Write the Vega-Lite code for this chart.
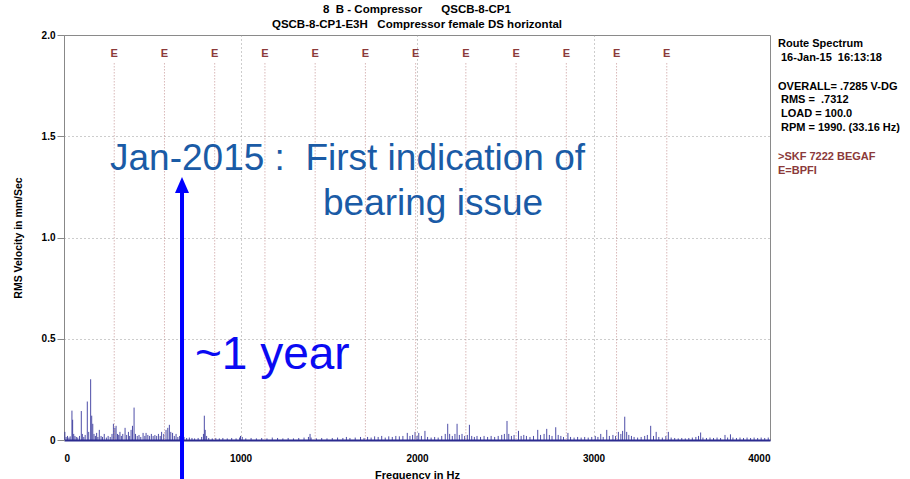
{
  "$schema": "https://vega.github.io/schema/vega-lite/v6.json",
  "width": 706,
  "height": 405,
  "autosize": "none",
  "padding": {"left": 64, "top": 35, "right": 140, "bottom": 39},
  "background": "white",
  "config": {
    "view": {"stroke": "#8a8a8a", "strokeWidth": 1},
    "font": "Liberation Sans",
    "axisX": {"labelFont": "Liberation Sans", "labelFontWeight": "bold", "labelFontSize": 10, "labelColor": "#000", "ticks": false, "labelPadding": 13, "domainColor": "#2b2b8f", "domainWidth": 2, "gridColor": "#9a9a9a", "gridDash": [1, 3], "titleFont": "Liberation Sans", "titleFontWeight": "bold", "titleFontSize": 11, "titleColor": "#000", "titlePadding": 6},
    "axisY": {"labelFont": "Liberation Sans", "labelFontWeight": "bold", "labelFontSize": 10, "labelColor": "#000", "tickSize": 7, "tickColor": "#888", "labelPadding": 2, "domainColor": "#888", "gridColor": "#9a9a9a", "gridDash": [1, 3], "titleFont": "Liberation Sans", "titleFontWeight": "bold", "titleFontSize": 10.5, "titleColor": "#000", "titlePadding": 18}
  },
  "title": {
    "text": "8\u00a0 B - Compressor\u00a0 \u00a0 \u00a0 QSCB-8-CP1",
    "subtitle": "QSCB-8-CP1-E3H\u00a0 \u00a0Compressor female DS horizontal",
    "anchor": "middle",
    "font": "Liberation Sans Narrow, Arial Narrow, Liberation Sans",
    "subtitleFont": "Liberation Sans Narrow, Arial Narrow, Liberation Sans",
    "fontSize": 11.5,
    "subtitleFontSize": 11.5,
    "fontWeight": "bold",
    "subtitleFontWeight": "bold",
    "color": "#000",
    "subtitleColor": "#000",
    "subtitlePadding": 3,
    "offset": 0
  },
  "datasets": {
    "spec": [
      {"f":5,"a":0.04},{"f":12,"a":0.015},{"f":20,"a":0.02},{"f":28,"a":0.012},{"f":35,"a":0.018},{"f":45,"a":0.145},{"f":49,"a":0.1},{"f":55,"a":0.03},{"f":62,"a":0.02},{"f":70,"a":0.015},{"f":78,"a":0.012},{"f":88,"a":0.02},{"f":98,"a":0.143},{"f":104,"a":0.03},{"f":112,"a":0.015},{"f":120,"a":0.025},{"f":132,"a":0.19},{"f":140,"a":0.04},{"f":151,"a":0.3},{"f":157,"a":0.12},{"f":163,"a":0.08},{"f":170,"a":0.03},{"f":178,"a":0.02},{"f":185,"a":0.035},{"f":192,"a":0.015},{"f":200,"a":0.05},{"f":210,"a":0.02},{"f":218,"a":0.015},{"f":228,"a":0.03},{"f":240,"a":0.012},{"f":250,"a":0.02},{"f":262,"a":0.015},{"f":272,"a":0.03},{"f":280,"a":0.08},{"f":288,"a":0.06},{"f":295,"a":0.07},{"f":303,"a":0.03},{"f":310,"a":0.025},{"f":317,"a":0.04},{"f":325,"a":0.02},{"f":333,"a":0.03},{"f":346,"a":0.06},{"f":355,"a":0.025},{"f":365,"a":0.04},{"f":372,"a":0.02},{"f":380,"a":0.05},{"f":388,"a":0.07},{"f":397,"a":0.16},{"f":405,"a":0.03},{"f":415,"a":0.02},{"f":425,"a":0.025},{"f":435,"a":0.015},{"f":448,"a":0.035},{"f":458,"a":0.02},{"f":465,"a":0.035},{"f":475,"a":0.025},{"f":485,"a":0.02},{"f":495,"a":0.03},{"f":505,"a":0.02},{"f":515,"a":0.025},{"f":525,"a":0.02},{"f":535,"a":0.03},{"f":545,"a":0.02},{"f":553,"a":0.04},{"f":565,"a":0.03},{"f":578,"a":0.05},{"f":588,"a":0.06},{"f":597,"a":0.075},{"f":605,"a":0.04},{"f":615,"a":0.035},{"f":625,"a":0.02},{"f":635,"a":0.03},{"f":645,"a":0.015},{"f":655,"a":0.02},{"f":668,"a":0.012},{"f":680,"a":0.015},{"f":695,"a":0.01},{"f":710,"a":0.012},{"f":725,"a":0.01},{"f":740,"a":0.008},{"f":760,"a":0.01},{"f":780,"a":0.015},{"f":790,"a":0.03},{"f":795,"a":0.12},{"f":800,"a":0.05},{"f":808,"a":0.02},{"f":820,"a":0.01},{"f":840,"a":0.008},{"f":860,"a":0.01},{"f":880,"a":0.008},{"f":900,"a":0.01},{"f":925,"a":0.008},{"f":950,"a":0.01},{"f":975,"a":0.008},{"f":995,"a":0.012},{"f":1000,"a":0.02},{"f":1010,"a":0.015},{"f":1030,"a":0.008},{"f":1060,"a":0.01},{"f":1090,"a":0.008},{"f":1120,"a":0.01},{"f":1150,"a":0.008},{"f":1180,"a":0.012},{"f":1210,"a":0.01},{"f":1240,"a":0.008},{"f":1270,"a":0.01},{"f":1300,"a":0.008},{"f":1330,"a":0.01},{"f":1360,"a":0.012},{"f":1385,"a":0.015},{"f":1394,"a":0.03},{"f":1400,"a":0.012},{"f":1430,"a":0.008},{"f":1460,"a":0.01},{"f":1490,"a":0.008},{"f":1520,"a":0.01},{"f":1550,"a":0.012},{"f":1580,"a":0.01},{"f":1600,"a":0.015},{"f":1620,"a":0.01},{"f":1650,"a":0.012},{"f":1680,"a":0.015},{"f":1700,"a":0.01},{"f":1720,"a":0.015},{"f":1740,"a":0.012},{"f":1760,"a":0.018},{"f":1780,"a":0.015},{"f":1800,"a":0.02},{"f":1820,"a":0.012},{"f":1840,"a":0.018},{"f":1860,"a":0.015},{"f":1880,"a":0.02},{"f":1900,"a":0.018},{"f":1920,"a":0.02},{"f":1945,"a":0.035},{"f":1960,"a":0.02},{"f":1975,"a":0.025},{"f":1989,"a":0.04},{"f":2000,"a":0.02},{"f":2010,"a":0.035},{"f":2025,"a":0.02},{"f":2045,"a":0.045},{"f":2060,"a":0.015},{"f":2080,"a":0.012},{"f":2100,"a":0.015},{"f":2120,"a":0.012},{"f":2140,"a":0.02},{"f":2160,"a":0.03},{"f":2174,"a":0.08},{"f":2185,"a":0.03},{"f":2200,"a":0.02},{"f":2215,"a":0.03},{"f":2227,"a":0.08},{"f":2240,"a":0.025},{"f":2255,"a":0.03},{"f":2270,"a":0.02},{"f":2285,"a":0.025},{"f":2297,"a":0.075},{"f":2310,"a":0.02},{"f":2325,"a":0.015},{"f":2340,"a":0.02},{"f":2360,"a":0.015},{"f":2380,"a":0.02},{"f":2400,"a":0.015},{"f":2420,"a":0.02},{"f":2440,"a":0.015},{"f":2460,"a":0.02},{"f":2480,"a":0.025},{"f":2495,"a":0.03},{"f":2510,"a":0.094},{"f":2520,"a":0.03},{"f":2535,"a":0.02},{"f":2550,"a":0.025},{"f":2575,"a":0.045},{"f":2590,"a":0.02},{"f":2605,"a":0.025},{"f":2620,"a":0.02},{"f":2640,"a":0.015},{"f":2660,"a":0.02},{"f":2684,"a":0.05},{"f":2700,"a":0.025},{"f":2720,"a":0.03},{"f":2735,"a":0.055},{"f":2750,"a":0.025},{"f":2765,"a":0.02},{"f":2786,"a":0.063},{"f":2800,"a":0.025},{"f":2815,"a":0.02},{"f":2830,"a":0.015},{"f":2855,"a":0.035},{"f":2870,"a":0.015},{"f":2890,"a":0.012},{"f":2910,"a":0.015},{"f":2930,"a":0.012},{"f":2950,"a":0.015},{"f":2970,"a":0.012},{"f":2990,"a":0.015},{"f":3010,"a":0.02},{"f":3025,"a":0.015},{"f":3041,"a":0.03},{"f":3055,"a":0.015},{"f":3075,"a":0.05},{"f":3090,"a":0.02},{"f":3110,"a":0.025},{"f":3125,"a":0.02},{"f":3141,"a":0.04},{"f":3155,"a":0.03},{"f":3165,"a":0.045},{"f":3177,"a":0.115},{"f":3188,"a":0.04},{"f":3200,"a":0.025},{"f":3215,"a":0.02},{"f":3230,"a":0.015},{"f":3250,"a":0.012},{"f":3270,"a":0.015},{"f":3290,"a":0.02},{"f":3305,"a":0.025},{"f":3324,"a":0.07},{"f":3340,"a":0.02},{"f":3355,"a":0.04},{"f":3370,"a":0.015},{"f":3390,"a":0.012},{"f":3410,"a":0.02},{"f":3424,"a":0.04},{"f":3440,"a":0.012},{"f":3460,"a":0.01},{"f":3480,"a":0.008},{"f":3500,"a":0.01},{"f":3520,"a":0.008},{"f":3540,"a":0.01},{"f":3560,"a":0.012},{"f":3580,"a":0.015},{"f":3595,"a":0.02},{"f":3607,"a":0.037},{"f":3620,"a":0.012},{"f":3640,"a":0.01},{"f":3660,"a":0.012},{"f":3680,"a":0.01},{"f":3700,"a":0.012},{"f":3720,"a":0.01},{"f":3745,"a":0.025},{"f":3760,"a":0.012},{"f":3776,"a":0.028},{"f":3790,"a":0.012},{"f":3810,"a":0.01},{"f":3830,"a":0.012},{"f":3850,"a":0.01},{"f":3870,"a":0.012},{"f":3890,"a":0.01},{"f":3910,"a":0.012},{"f":3930,"a":0.01},{"f":3950,"a":0.012},{"f":3970,"a":0.01},{"f":3990,"a":0.012}
    ],
    "bpfi": [
      {"n":1,"f":284.6},{"n":2,"f":569.2},{"n":3,"f":853.8},{"n":4,"f":1138.4},{"n":5,"f":1423},{"n":6,"f":1707.6},{"n":7,"f":1992.2},{"n":8,"f":2276.8},{"n":9,"f":2561.4},{"n":10,"f":2846},{"n":11,"f":3130.6},{"n":12,"f":3415.2}
    ],
    "infoA": [{"t": "Route Spectrum"}],
    "infoB": [{"t": "16-Jan-15\u00a0 16:13:18"}],
    "infoC": [{"t": "OVERALL= .7285 V-DG"}],
    "infoD": [{"t": "RMS =\u00a0 .7312\nLOAD = 100.0\nRPM = 1990. (33.16 Hz)"}],
    "info2": [{"t": ">SKF 7222 BEGAF\nE=BPFI"}],
    "note1": [{"t": "Jan-2015 :\u00a0 First indication of"}],
    "note2": [{"t": "bearing issue"}],
    "note3": [{"t": "~1 year"}],
    "one": [{"k": 1}]
  },
  "layer": [
    {
      "data": {"name": "spec"},
      "mark": {"type": "rule", "color": "#2e2e98", "strokeWidth": 1, "opacity": 0.85},
      "encoding": {
        "x": {"field": "f", "type": "quantitative", "title": "Frequency in Hz",
              "scale": {"domain": [0, 4000], "nice": false},
              "axis": {"values": [0, 1000, 2000, 3000, 4000], "format": "d",
                       "gridOpacity": {"condition": {"test": "datum.value === 0 || datum.value === 4000", "value": 0}, "value": 1}}},
        "y": {"field": "a", "type": "quantitative", "title": "RMS Velocity in mm/Sec",
              "scale": {"domain": [0, 2], "nice": false},
              "axis": {"values": [0, 0.5, 1, 1.5, 2], "labelExpr": "datum.value === 0 ? '0' : format(datum.value, '.1f')",
                       "gridOpacity": {"condition": {"test": "datum.value === 0 || datum.value === 2", "value": 0}, "value": 1}}},
        "y2": {"datum": 0}
      }
    },
    {
      "data": {"name": "bpfi"},
      "mark": {"type": "rule", "color": "#c49494", "strokeWidth": 1, "strokeDash": [1, 2]},
      "encoding": {
        "x": {"field": "f", "type": "quantitative", "title": "Frequency in Hz"},
        "y": {"datum": 1.86},
        "y2": {"datum": 0}
      }
    },
    {
      "data": {"name": "bpfi"},
      "mark": {"type": "text", "text": "E", "color": "#8b3a3a", "font": "Liberation Sans Narrow, Arial Narrow, Liberation Sans", "fontSize": 11, "fontWeight": "bold", "baseline": "middle", "align": "center"},
      "encoding": {
        "x": {"field": "f", "type": "quantitative", "title": "Frequency in Hz"},
        "y": {"datum": 1.906}
      }
    },
    {
      "data": {"name": "infoA"},
      "mark": {"type": "text", "align": "left", "baseline": "top", "dx": 8, "font": "Liberation Sans", "fontSize": 11, "fontWeight": "bold", "color": "#000"},
      "encoding": {"x": {"datum": 4000}, "y": {"datum": 1.983}, "text": {"field": "t"}}
    },
    {
      "data": {"name": "infoB"},
      "mark": {"type": "text", "align": "left", "baseline": "top", "dx": 11, "font": "Liberation Sans", "fontSize": 11, "fontWeight": "bold", "color": "#000"},
      "encoding": {"x": {"datum": 4000}, "y": {"datum": 1.9136}, "text": {"field": "t"}}
    },
    {
      "data": {"name": "infoC"},
      "mark": {"type": "text", "align": "left", "baseline": "top", "dx": 8, "font": "Liberation Sans", "fontSize": 11, "fontWeight": "bold", "color": "#000"},
      "encoding": {"x": {"datum": 4000}, "y": {"datum": 1.7753}, "text": {"field": "t"}}
    },
    {
      "data": {"name": "infoD"},
      "mark": {"type": "text", "align": "left", "baseline": "top", "dx": 11, "lineBreak": "\n", "lineHeight": 14, "font": "Liberation Sans", "fontSize": 11, "fontWeight": "bold", "color": "#000"},
      "encoding": {"x": {"datum": 4000}, "y": {"datum": 1.7062}, "text": {"field": "t"}}
    },
    {
      "data": {"name": "info2"},
      "mark": {"type": "text", "align": "left", "baseline": "top", "dx": 8, "lineBreak": "\n", "lineHeight": 14, "font": "Liberation Sans", "fontSize": 11, "fontWeight": "bold", "color": "#8b3a3a"},
      "encoding": {"x": {"datum": 4000}, "y": {"datum": 1.4296}, "text": {"field": "t"}}
    },
    {
      "data": {"name": "note1"},
      "mark": {"type": "text", "align": "left", "baseline": "alphabetic", "font": "Liberation Sans", "fontSize": 37, "color": "#1a5ba6"},
      "encoding": {"x": {"datum": 260.6}, "y": {"datum": 1.333}, "text": {"field": "t"}}
    },
    {
      "data": {"name": "note2"},
      "mark": {"type": "text", "align": "left", "baseline": "alphabetic", "font": "Liberation Sans", "fontSize": 37, "color": "#1a5ba6"},
      "encoding": {"x": {"datum": 1467.4}, "y": {"datum": 1.111}, "text": {"field": "t"}}
    },
    {
      "data": {"name": "note3"},
      "mark": {"type": "text", "align": "left", "baseline": "alphabetic", "font": "Liberation Sans", "fontSize": 46, "color": "#0a0af2"},
      "encoding": {"x": {"datum": 742}, "y": {"datum": 0.351}, "text": {"field": "t"}}
    },
    {
      "data": {"name": "one"},
      "mark": {"type": "rule", "color": "#0000ff", "strokeWidth": 4},
      "encoding": {"x": {"datum": 668.6}, "y": {"datum": -0.3}, "y2": {"datum": 1.24}}
    },
    {
      "data": {"name": "one"},
      "mark": {"type": "point", "shape": "M0,-1L0.875,1L-0.875,1Z", "size": 256, "filled": true, "color": "#0000ff", "opacity": 1},
      "encoding": {"x": {"datum": 668.6}, "y": {"datum": 1.259}}
    }
  ]
}
